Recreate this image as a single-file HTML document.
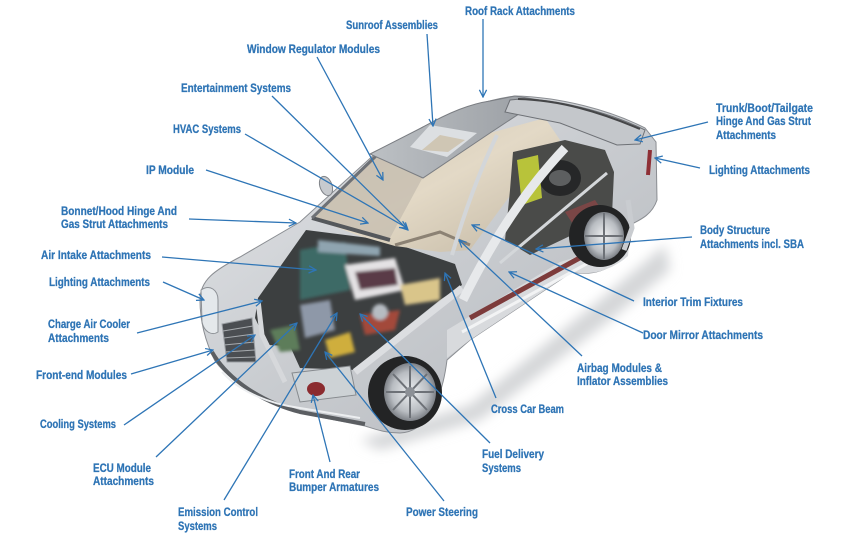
<!DOCTYPE html>
<html><head><meta charset="utf-8"><style>
html,body{margin:0;padding:0;background:#fff;}
svg{display:block;}
text{font-family:"Liberation Sans",Arial,sans-serif;font-weight:bold;font-size:11.5px;fill:#2e74b5;stroke:#2e74b5;stroke-width:0.25px;}
</style></head><body>
<svg width="850" height="535" viewBox="0 0 850 535" xmlns="http://www.w3.org/2000/svg">
<defs>
<linearGradient id="body" x1="0" y1="0" x2="1" y2="1">
<stop offset="0" stop-color="#e4e6e9"/><stop offset="0.5" stop-color="#c9ccd0"/><stop offset="1" stop-color="#b4b7bc"/>
</linearGradient>
<linearGradient id="roof" x1="0" y1="0" x2="1" y2="0">
<stop offset="0" stop-color="#bcc0c4"/><stop offset="1" stop-color="#9a9ea3"/>
</linearGradient>
<linearGradient id="int" x1="0" y1="0" x2="1" y2="1">
<stop offset="0" stop-color="#cfc6b6"/><stop offset="0.5" stop-color="#e3d9c6"/><stop offset="1" stop-color="#c2b7a3"/>
</linearGradient>
<radialGradient id="rim" cx="0.5" cy="0.5" r="0.5">
<stop offset="0" stop-color="#eef0f2"/><stop offset="0.7" stop-color="#b9bdc2"/><stop offset="1" stop-color="#7d8187"/>
</radialGradient>
<filter id="blur"><feGaussianBlur stdDeviation="6"/></filter>
<filter id="b2"><feGaussianBlur stdDeviation="1.5"/></filter>
<marker id="ah" viewBox="0 0 10 10" refX="9" refY="5" markerWidth="9" markerHeight="9" markerUnits="userSpaceOnUse" orient="auto">
<path d="M1,1 L9,5 L1,9" fill="none" stroke="#2e75b6" stroke-width="1.4"/>
</marker>
</defs>

<!-- shadow -->
<path d="M360,440 L470,405 L600,300 L665,245 L670,270 L610,320 L480,420 L380,450 Z" fill="#d4d6d8" filter="url(#blur)"/>

<!-- body -->
<path d="M200,300 C200,280 215,270 240,257 L300,222 L377,152 L423,127 C455,110 490,99 515,96 C560,97 610,110 645,128 L656,142 L657,200 C652,215 640,220 628,226 L622,255 C612,270 592,276 572,272 L470,340 L447,360 C442,400 427,432 400,433 C385,433 375,429 365,426 L300,413 C260,401 230,381 215,361 C205,341 200,321 200,300 Z" fill="url(#body)" stroke="#8a8d92" stroke-width="1"/>

<!-- lower side body -->
<path d="M447,330 L560,262 L600,250 L630,235 L628,256 C612,270 592,276 572,272 L470,340 L447,358 Z" fill="#d8dadd"/>
<path d="M470,318 L585,255" stroke="#7d3b3b" stroke-width="5"/>
<path d="M462,332 L590,262" stroke="#f2f3f4" stroke-width="3"/>

<!-- front bumper -->
<path d="M212,352 C228,380 262,402 300,412 L365,424" fill="none" stroke="#5b5e62" stroke-width="4"/>
<path d="M222,372 C240,392 270,404 300,408 L360,418" fill="none" stroke="#eceef0" stroke-width="2"/>

<!-- grille -->
<path d="M222,324 L252,318 L256,362 L227,362 Z" fill="#4b4e52" stroke="#9a9ea3"/>
<g stroke="#a7abaf" stroke-width="1">
<line x1="223" y1="331" x2="253" y2="326"/><line x1="224" y1="338" x2="254" y2="334"/><line x1="224" y1="345" x2="255" y2="342"/><line x1="225" y1="352" x2="255" y2="350"/><line x1="226" y1="358" x2="255" y2="357"/>
</g>

<!-- left headlight -->
<path d="M201,290 C210,284 218,290 218,300 L218,332 C212,336 204,332 202,322 Z" fill="#e4e8eb" stroke="#8c9095"/>

<!-- engine bay -->
<path d="M306,230 L385,240 L455,264 L462,285 L440,300 L400,332 L357,370 L300,368 L290,346 L268,345 L255,318 L258,298 Z" fill="#3c3f40"/>
<g filter="url(#b2)">
<path d="M300,250 L345,242 L350,290 L300,300 Z" fill="#3e6b66"/>
<path d="M345,265 L395,258 L405,290 L355,300 Z" fill="#e4e2e4"/>
<path d="M355,272 L395,268 L398,285 L360,290 Z" fill="#5a3b46"/>
<path d="M325,340 L350,332 L355,352 L330,358 Z" fill="#cfae3c"/>
<path d="M400,285 L440,278 L440,300 L405,305 Z" fill="#d9c58a"/>
<path d="M300,305 L330,300 L335,330 L305,338 Z" fill="#8e98a8"/>
<path d="M270,330 L295,325 L300,350 L280,352 Z" fill="#5d7d5a"/>
<path d="M360,315 L400,310 L395,330 L365,335 Z" fill="#a34a3a"/>
<circle cx="380" cy="312" r="8" fill="#b6bcc2"/>
<path d="M318,240 L380,247 L380,256 L318,252 Z" fill="#8fa4b0"/>
</g>
<!-- fender edge -->
<path d="M462,288 L355,372" stroke="#dcdee1" stroke-width="7"/>
<path d="M258,300 L262,335 L285,382" stroke="#d6d8db" stroke-width="5" fill="none"/>

<!-- right headlight -->
<path d="M292,373 L350,366 L356,395 L300,402 Z" fill="#cdd2d5" stroke="#868a8e"/>
<ellipse cx="316" cy="389" rx="9" ry="7" fill="#8b2b2f"/>

<!-- front wheel -->
<circle cx="405" cy="393" r="37" fill="#232425"/>
<ellipse cx="410" cy="392" rx="26" ry="29" fill="url(#rim)"/>
<g stroke="#6d7177" stroke-width="2">
<line x1="410" y1="366" x2="410" y2="418"/><line x1="386" y1="392" x2="434" y2="392"/><line x1="393" y1="374" x2="427" y2="410"/><line x1="393" y1="410" x2="427" y2="374"/>
</g>
<circle cx="410" cy="392" r="5" fill="#8c9096"/>

<!-- interior -->
<path d="M312,218 L378,156 L423,177 L490,133 L545,118 L560,140 L520,182 L495,216 L470,250 L440,252 L395,246 L360,236 Z" fill="url(#int)"/>
<!-- windshield glass -->
<path d="M313,217 L378,153 L423,177 L390,238 Z" fill="#c8c0b2" opacity="0.85"/>
<path d="M395,245 L440,232 L470,245" stroke="#8c8274" stroke-width="3" fill="none"/>
<path d="M312,218 L390,240" stroke="#55585c" stroke-width="4"/>
<path d="M312,218 L378,154" stroke="#6e7176" stroke-width="3"/>
<!-- roof -->
<path d="M370,154 L423,127 C450,112 470,104 490,101 L515,96 L540,100 L490,133 L423,178 Z" fill="url(#roof)" stroke="#7a7d82" stroke-width="1"/>
<path d="M410,147 L430,125 L477,133 L447,157 Z" fill="#dcdfe2"/>
<path d="M422,150 L440,135 L465,140 L448,152 Z" fill="#cfc6b4"/>
<!-- mirror -->
<ellipse cx="326" cy="186" rx="6" ry="10" fill="#c7cace" stroke="#7f8388" transform="rotate(-20 326 186)"/>

<!-- trunk lid -->
<path d="M510,100 C540,96 600,108 645,130 L640,144 L617,145 L560,123 L505,112 Z" fill="#c4c7cb" stroke="#6e7176" stroke-width="1"/>
<path d="M518,99 C560,100 600,112 640,129" stroke="#454648" stroke-width="2" fill="none"/>

<!-- rear cutaway -->
<path d="M513,152 L565,140 L605,150 L614,172 L612,215 L595,212 L570,236 L530,255 L505,240 L510,190 Z" fill="#4a4b49"/>
<ellipse cx="560" cy="178" rx="21" ry="18" fill="#262728"/>
<ellipse cx="560" cy="178" rx="11" ry="8" fill="#5d5f60"/>
<path d="M517,160 L538,155 L542,198 L522,205 Z" fill="#b8c33a"/>
<path d="M565,212 L595,200 L605,215 L578,232 Z" fill="#7a4646"/>
<!-- pillar rails -->
<path d="M565,148 C530,185 495,235 463,300" stroke="#e7e9eb" stroke-width="9" fill="none"/>
<path d="M607,173 L500,263" stroke="#d4d7da" stroke-width="3" fill="none"/>
<path d="M497,135 C480,170 465,210 452,255" stroke="#d3d6d9" stroke-width="4" fill="none"/>

<!-- rear wheel -->
<circle cx="600" cy="236" r="31" fill="#222324"/>
<ellipse cx="604" cy="236" rx="20" ry="24" fill="url(#rim)"/>
<g stroke="#6d7177" stroke-width="2">
<line x1="604" y1="213" x2="604" y2="259"/><line x1="585" y1="236" x2="623" y2="236"/>
</g>
<path d="M628,200 L632,228 L624,250" stroke="#c9ccd0" stroke-width="5" fill="none"/>
<path d="M650,150 L648,175" stroke="#8e2f35" stroke-width="4"/>

<!-- leader lines -->
<g stroke="#2e75b6" stroke-width="1.3" fill="none" marker-end="url(#ah)">
<line x1="483" y1="19" x2="483" y2="97"/>
<line x1="427" y1="34" x2="433" y2="126"/>
<line x1="317" y1="57" x2="383" y2="180"/>
<line x1="272" y1="96" x2="408" y2="230"/>
<line x1="245" y1="134" x2="407" y2="228"/>
<line x1="206" y1="170" x2="368" y2="223"/>
<line x1="189" y1="219" x2="296" y2="223"/>
<line x1="162" y1="257" x2="316" y2="270"/>
<line x1="163" y1="282" x2="204" y2="300"/>
<line x1="137" y1="333" x2="262" y2="301"/>
<line x1="131" y1="374" x2="213" y2="350"/>
<line x1="124" y1="425" x2="255" y2="335"/>
<line x1="156" y1="457" x2="297" y2="323"/>
<line x1="224" y1="500" x2="337" y2="313"/>
<line x1="330" y1="462" x2="313" y2="395"/>
<line x1="444" y1="501" x2="325" y2="352"/>
<line x1="490" y1="443" x2="360" y2="314"/>
<line x1="496" y1="398" x2="445" y2="273"/>
<line x1="582" y1="356" x2="459" y2="240"/>
<line x1="643" y1="333" x2="509" y2="272"/>
<line x1="634" y1="301" x2="472" y2="225"/>
<line x1="692" y1="237" x2="536" y2="249"/>
<line x1="708" y1="122" x2="635" y2="140"/>
<line x1="700" y1="168" x2="655" y2="158"/>
</g>

<!-- labels -->
<g>
<text x="346" y="29" textLength="92" lengthAdjust="spacingAndGlyphs">Sunroof Assemblies</text>
<text x="465" y="15" textLength="110" lengthAdjust="spacingAndGlyphs">Roof Rack Attachments</text>
<text x="247" y="53" textLength="133" lengthAdjust="spacingAndGlyphs">Window Regulator Modules</text>
<text x="181" y="92" textLength="110" lengthAdjust="spacingAndGlyphs">Entertainment Systems</text>
<text x="173" y="133" textLength="68" lengthAdjust="spacingAndGlyphs">HVAC Systems</text>
<text x="146" y="174" textLength="48" lengthAdjust="spacingAndGlyphs">IP Module</text>
<text x="61" y="215" textLength="116" lengthAdjust="spacingAndGlyphs">Bonnet/Hood Hinge And</text>
<text x="61" y="228" textLength="107" lengthAdjust="spacingAndGlyphs">Gas Strut Attachments</text>
<text x="41" y="259" textLength="110" lengthAdjust="spacingAndGlyphs">Air Intake Attachments</text>
<text x="49" y="286" textLength="101" lengthAdjust="spacingAndGlyphs">Lighting Attachments</text>
<text x="48" y="328" textLength="82" lengthAdjust="spacingAndGlyphs">Charge Air Cooler</text>
<text x="48" y="342" textLength="61" lengthAdjust="spacingAndGlyphs">Attachments</text>
<text x="36" y="379" textLength="91" lengthAdjust="spacingAndGlyphs">Front-end Modules</text>
<text x="40" y="428" textLength="76" lengthAdjust="spacingAndGlyphs">Cooling Systems</text>
<text x="93" y="472" textLength="58" lengthAdjust="spacingAndGlyphs">ECU Module</text>
<text x="93" y="485" textLength="61" lengthAdjust="spacingAndGlyphs">Attachments</text>
<text x="178" y="516" textLength="80" lengthAdjust="spacingAndGlyphs">Emission Control</text>
<text x="178" y="530" textLength="39" lengthAdjust="spacingAndGlyphs">Systems</text>
<text x="289" y="478" textLength="71" lengthAdjust="spacingAndGlyphs">Front And Rear</text>
<text x="289" y="491" textLength="90" lengthAdjust="spacingAndGlyphs">Bumper Armatures</text>
<text x="406" y="516" textLength="72" lengthAdjust="spacingAndGlyphs">Power Steering</text>
<text x="482" y="458" textLength="62" lengthAdjust="spacingAndGlyphs">Fuel Delivery</text>
<text x="482" y="472" textLength="39" lengthAdjust="spacingAndGlyphs">Systems</text>
<text x="491" y="413" textLength="73" lengthAdjust="spacingAndGlyphs">Cross Car Beam</text>
<text x="577" y="372" textLength="85" lengthAdjust="spacingAndGlyphs">Airbag Modules &amp;</text>
<text x="577" y="385" textLength="91" lengthAdjust="spacingAndGlyphs">Inflator Assemblies</text>
<text x="643" y="306" textLength="100" lengthAdjust="spacingAndGlyphs">Interior Trim Fixtures</text>
<text x="643" y="339" textLength="120" lengthAdjust="spacingAndGlyphs">Door Mirror Attachments</text>
<text x="700" y="234" textLength="70" lengthAdjust="spacingAndGlyphs">Body Structure</text>
<text x="700" y="248" textLength="104" lengthAdjust="spacingAndGlyphs">Attachments incl. SBA</text>
<text x="716" y="112" textLength="97" lengthAdjust="spacingAndGlyphs">Trunk/Boot/Tailgate</text>
<text x="716" y="125" textLength="95" lengthAdjust="spacingAndGlyphs">Hinge And Gas Strut</text>
<text x="716" y="139" textLength="60" lengthAdjust="spacingAndGlyphs">Attachments</text>
<text x="709" y="174" textLength="101" lengthAdjust="spacingAndGlyphs">Lighting Attachments</text>
</g>
</svg>
</body></html>
